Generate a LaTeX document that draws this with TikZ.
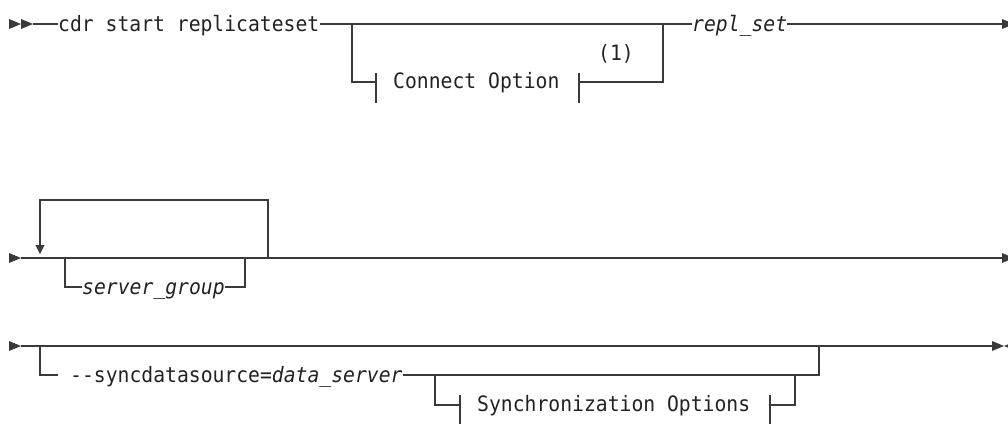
\documentclass[tikz,border=0pt]{standalone}
\usepackage{fontspec}
\setmonofont{DejaVu Sans Mono}[ItalicFont={DejaVu Sans Mono Oblique}, FakeStretch=0.93]
\definecolor{railc}{HTML}{3A3A3A}
\definecolor{txtc}{HTML}{222222}
\begin{document}
\begin{tikzpicture}[x=1pt,y=-1pt,
  rail/.style={draw=railc, line width=1.1pt},
  txt/.style={inner sep=0pt, anchor=base west, font=\ttfamily\fontsize{21.2}{24}\selectfont, text=txtc},
  tip/.style={fill=railc, draw=none}]
\useasboundingbox (0,0) rectangle (1008,423);

% ---------------- Row 1 ----------------
\fill[tip] (9,19) -- (21,24) -- (9,29) -- cycle;
\fill[tip] (21,19) -- (33,24) -- (21,29) -- cycle;
\coordinate (r1s) at (33,24);
\node[txt] (cdr) at (58,31.5) {cdr start replicateset};
\coordinate (j1a) at (352,24);
\coordinate (j1b) at (663,24);
\node[txt] (repl) at (692,31.5) {\itshape repl\_set};
\coordinate (r1e) at (1002,24);
\draw[rail] (r1s) -- (cdr.west |- r1s);
\draw[rail] (cdr.east |- r1s) -- (j1a) -- (j1b) -- (repl.west |- j1b);
\draw[rail] (repl.east |- r1e) -- (r1e);
\fill[tip] (r1e) ++(0,-5) -- ++(12,5) -- ++(-12,5) -- cycle;
% Connect Option branch
\node[txt] (conn) at (393,88.5) {Connect Option};
\node[txt] (note) at (598,60) {(1)};
\coordinate (c1) at (376,82);
\coordinate (c2) at (579,82);
\draw[rail] (j1a) -- (j1a |- c1) -- (c1);
\draw[rail] (c1) ++(0,-9) -- ++(0,30);
\draw[rail] (c2) ++(0,-9) -- ++(0,30);
\draw[rail] (c2) -- (j1b |- c2) -- (j1b);

% ---------------- Row 2 ----------------
\fill[tip] (9,253) -- (21,258) -- (9,263) -- cycle;
\coordinate (r2s) at (21,258);
\coordinate (r2e) at (1002,258);
\draw[rail] (r2s) -- (r2e);
\fill[tip] (r2e) ++(0,-5) -- ++(12,5) -- ++(-12,5) -- cycle;
% repeat loop
\coordinate (lpR) at (268,258);
\coordinate (lpTR) at (268,200);
\coordinate (lpTL) at (40,200);
\coordinate (lpA) at (40,245);
\draw[rail] (lpR) -- (lpTR) -- (lpTL) -- (lpA);
\fill[tip] (35.5,245) -- (44.5,245) -- (40,254) -- cycle;
% server_group branch
\node[txt] (sg) at (82,294) {\itshape server\_group};
\coordinate (sgL) at (65,258);
\coordinate (sgR) at (245,258);
\draw[rail] (sgL) -- (sgL |- 0,287) -- (sg.west |- 0,287);
\draw[rail] (sg.east |- 0,287) -- (sgR |- 0,287) -- (sgR);

% ---------------- Row 3 ----------------
\fill[tip] (9,341) -- (21,346) -- (9,351) -- cycle;
\coordinate (r3s) at (21,346);
\coordinate (r3e) at (992,346);
\draw[rail] (r3s) -- (r3e);
\draw[rail, line width=2.4pt] (824,346) -- (848,346);
\fill[tip] (992,341) -- (1004,346) -- (992,351) -- cycle;
\fill[tip] (1016,341) -- (1004,346) -- (1016,351) -- cycle;
% syncdatasource branch
\node[txt] (sync) at (70,382) {-{}-syncdatasource=\textit{data\_server}};
\coordinate (sL) at (40,346);
\coordinate (sR) at (819,346);
\coordinate (ssL) at (435,375);
\coordinate (ssR) at (795,375);
\draw[rail] (sL) -- (sL |- 0,375) -- (58,375);
\draw[rail] (sync.east |- 0,375) -- (ssL) -- (ssR) -- (sR |- 0,375) -- (sR);
% Synchronization Options sub-branch
\node[txt] (syo) at (477,411.5) {Synchronization Options};
\coordinate (y1) at (460,405);
\coordinate (y2) at (770,405);
\draw[rail] (ssL) -- (ssL |- y1) -- (y1);
\draw[rail] (y1) ++(0,-10) -- ++(0,40);
\draw[rail] (y2) ++(0,-10) -- ++(0,40);
\draw[rail] (y2) -- (ssR |- y2) -- (ssR);
\end{tikzpicture}
\end{document}
